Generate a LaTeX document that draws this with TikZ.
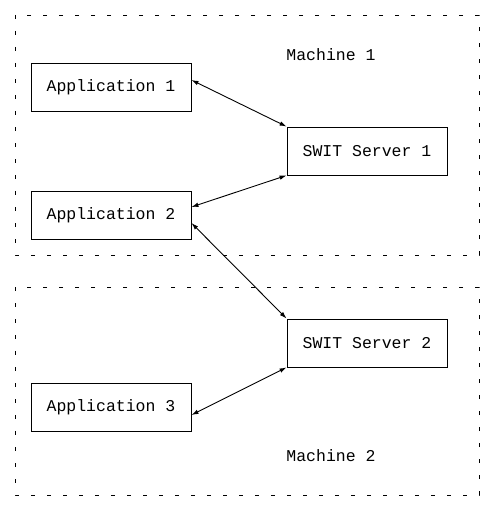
\documentclass[tikz,border=0pt]{standalone}
\usepackage{fontspec}
\setmonofont{Liberation Mono}
\usetikzlibrary{arrows.meta}
\begin{document}
\begin{tikzpicture}[x=1pt,y=-1pt,
  machine/.style={draw,line width=0.9pt,dash pattern=on 4pt off 12pt},
  box/.style={draw,line width=0.9pt,minimum width=160pt,minimum height=48pt,inner sep=0pt,font=\ttfamily\fontsize{16.5}{18}\selectfont},
  lbl/.style={font=\ttfamily\fontsize{16.5}{18}\selectfont,inner sep=0pt},
  link/.style={line width=0.9pt,{Latex[length=7pt,width=4.5pt]}-{Latex[length=7pt,width=4.5pt]}}]
\useasboundingbox (0,0) rectangle (495,511);
\draw[machine] (15,15) rectangle (479,255);
\draw[machine] (15,287) rectangle (479,495);
\node[lbl] (m1) at (331,55) {Machine 1};
\node[lbl] (m2) at (331,456) {Machine 2};
\node[box] (a1) at (111,87) {Application 1};
\node[box] (a2) at (111,215) {Application 2};
\node[box] (a3) at (111,407) {Application 3};
\node[box] (s1) at (367,151) {SWIT Server 1};
\node[box] (s2) at (367,343) {SWIT Server 2};
\draw[link] ([yshift=7pt]a1.east) -- (s1.north west);
\draw[link] ([yshift=8pt]a2.east) -- (s1.south west);
\draw[link] ([yshift=-8pt]a2.east) -- (s2.north west);
\draw[link] ([yshift=-8pt]a3.east) -- (s2.south west);
\end{tikzpicture}
\end{document}
